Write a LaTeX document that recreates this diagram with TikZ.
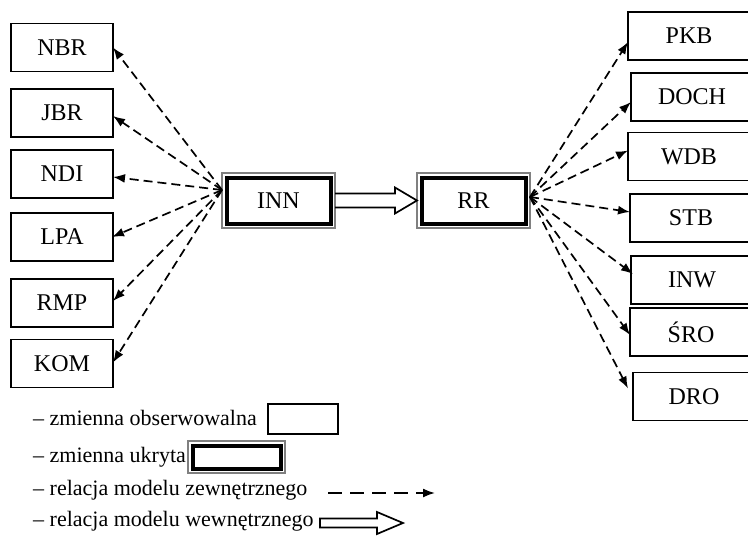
\documentclass[tikz,border=0pt]{standalone}
\usepackage{fontspec}
\setmainfont{Liberation Serif}
\usetikzlibrary{arrows.meta,calc}

\tikzset{
  obsbox/.style={draw, line width=1.7pt, outer sep=0pt, inner sep=0pt,
    minimum width=102pt, minimum height=48pt,
    font=\fontsize{24}{28}\selectfont},
  obsboxR/.style={obsbox, minimum width=122pt},
  hidbox/.style={draw=black!50, line width=1.2pt, outer sep=0pt, inner sep=0pt,
    minimum width=113pt, minimum height=55pt,
    font=\fontsize{24}{28}\selectfont,
    path picture={\draw[draw=black, line width=4pt]
      ([shift={(4.5pt,-4.5pt)}]path picture bounding box.north west) rectangle
      ([shift={(-4.5pt,4.5pt)}]path picture bounding box.south east);}},
  extrel/.style={line width=1.7pt, dash pattern=on 9pt off 5pt,
    -{Latex[length=12pt,width=9pt]}},
  introl/.style={line width=1.7pt, line join=miter},
  legtext/.style={anchor=base west, inner sep=0pt,
    font=\fontsize{22}{26}\selectfont}
}

\begin{document}
\begin{tikzpicture}[x=1pt,y=-1pt]
\clip (0,0) rectangle (748,536);

% latent variables
\node[hidbox] (INN) at (278.5,200.5) {INN};
\node[hidbox] (RR)  at (473.5,200.5) {RR};
\coordinate (innL) at (222,190);
\coordinate (rrR) at (530,197);

% observed variables, left
\node[obsbox] (NBR) at (62,47.5)  {NBR};
\node[obsbox] (JBR) at (62,113)   {JBR};
\node[obsbox] (NDI) at (62,174)   {NDI};
\node[obsbox] (LPA) at (62,237)   {LPA};
\node[obsbox] (RMP) at (62,303)   {RMP};
\node[obsbox] (KOM) at (62,363.5) {KOM};

% observed variables, right
\node[obsboxR] (PKB)  at (689,36)    {PKB};
\node[obsboxR] (DOCH) at (692,97)    {DOCH};
\node[obsboxR] (WDB)  at (689,156.5) {WDB};
\node[obsboxR] (STB)  at (691,218)   {STB};
\node[obsboxR] (INW)  at (692,280)   {INW};
\node[obsboxR] (SRO)  at (691,332)   {ŚRO};
\node[obsboxR] (DRO)  at (694,396.5) {DRO};

% outer model, INN
\draw[extrel] (innL) -- (NBR.east);
\draw[extrel] (innL) -- ([yshift=-3pt]JBR.east);
\draw[extrel] (innL) -- ([yshift=-3pt]NDI.east);
\draw[extrel] (innL) -- ([xshift=-1pt]LPA.east);
\draw[extrel] (innL) -- ([yshift=2pt]RMP.east);
\draw[extrel] (innL) -- ([yshift=1pt]KOM.east);

% outer model, RR
\draw[extrel] (rrR) -- ([yshift=-6pt]PKB.west);
\draw[extrel] (rrR) -- ([yshift=-5pt]DOCH.west);
\draw[extrel] (rrR) -- ([yshift=6pt]WDB.west);
\draw[extrel] (rrR) -- ([yshift=6pt]STB.west);
\draw[extrel] (rrR) -- ([xshift=2pt,yshift=6pt]INW.west);
\draw[extrel] (rrR) -- ([yshift=-3pt]SRO.west);
\draw[extrel] (rrR) -- ([xshift=-5pt,yshift=8pt]DRO.west);

% inner model
\draw[introl] ($(INN.east)+(0,-7)$) -- ($(RR.west)+(-22,-7)$)
  -- ($(RR.west)+(-22,-13)$) -- (RR.west) -- ($(RR.west)+(-22,13)$)
  -- ($(RR.west)+(-22,7)$) -- ($(INN.east)+(0,7)$);

% legend
\node[legtext] (leg1) at (33,425) {-- zmienna obserwowalna};
\node[obsbox, minimum width=70pt, minimum height=30pt] (legObs) at (303,419) {};
\node[legtext] (leg2) at (33,462) {-- zmienna ukryta};
\node[hidbox, minimum width=97pt, minimum height=32pt] (legHid) at (236.5,457) {};
\node[legtext] (leg3) at (33,495) {-- relacja modelu zewnętrznego};
\coordinate (legExtA) at (328,493);
\coordinate (legExtB) at (435,493);
\draw[extrel, dash pattern=on 14pt off 8pt] (legExtA) -- (legExtB);
\node[legtext] (leg4) at (33,526) {-- relacja modelu wewnętrznego};
\coordinate (legIntA) at (320,523);
\coordinate (legIntB) at (403,523);
\draw[introl] ($(legIntA)+(0,-4.5)$) -- ($(legIntB)+(-26,-4.5)$)
  -- ($(legIntB)+(-26,-11)$) -- (legIntB) -- ($(legIntB)+(-26,11)$)
  -- ($(legIntB)+(-26,4.5)$) -- ($(legIntA)+(0,4.5)$) -- cycle;
\end{tikzpicture}
\end{document}
